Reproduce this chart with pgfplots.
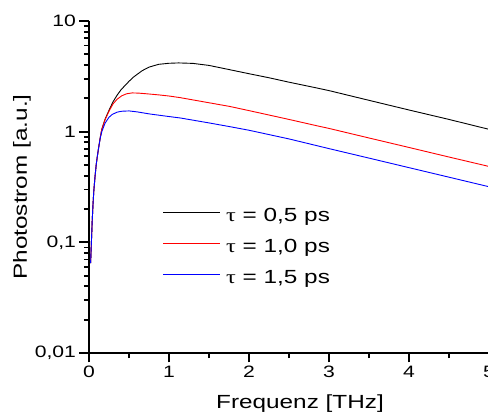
\documentclass[border=0pt]{standalone}
\usepackage{fontspec}
\setmainfont{Liberation Sans}[FakeStretch=1.28]
\newfontfamily\greek{Liberation Serif}[FakeStretch=1.28]
\usepackage{pgfplots}
\pgfplotsset{compat=1.18}
\begin{document}
\begin{tikzpicture}
\begin{axis}[
  name=ax,
  scale only axis,
  width=400pt, height=332pt,
  xmin=0, xmax=5, ymin=0.01, ymax=10,
  ymode=log,
  axis lines*=left,
  tick align=outside,
  major tick length=9.5pt, minor tick length=5pt,
  axis line style={line width=2pt},
  every tick/.style={line width=1.8pt, black},
  xtick={0,1,2,3,4,5}, xticklabels={0,1,2,3,4,5},
  minor xtick={0.5,1.5,2.5,3.5,4.5},
  ytick={0.01,0.1,1,10}, yticklabels={{0,01},{0,1},1,10},
  ticklabel style={font=\fontsize{16.5}{18}\selectfont},
  xlabel={Frequenz [THz]}, ylabel={Photostrom [a.u.]},
  label style={font=\fontsize{19}{22}\selectfont},
  xlabel style={at={(axis description cs:0.5275,-0.1657)}, anchor=base},
  ylabel style={at={(axis description cs:-0.155,0.5)}, anchor=base, rotate=0},
  legend style={at={(axis description cs:0.185,0.44)}, anchor=north west, draw=none, fill=none,
    inner sep=0pt, row sep=0pt, font=\fontsize{19}{22}\selectfont,
    nodes={inner sep=0pt, text height=14pt, text depth=17pt}},
  legend cell align=left,
  legend image code/.code={\path[#1, draw=none, fill] (0pt,9.6pt) rectangle (57pt,10.8pt);},
  /tikz/every odd column/.append style={column sep=6pt},
]
\addplot[black, line width=0.9pt] coordinates {
(0.02,0.065) (0.03,0.10) (0.04,0.155) (0.05,0.22) (0.06,0.29) (0.075,0.39) (0.09,0.5) (0.1,0.57) (0.117,0.69) (0.14,0.88) (0.16,1.05)
(0.2,1.29) (0.25,1.56) (0.3,1.86) (0.35,2.13) (0.4,2.39) (0.454,2.63) (0.5,2.85) (0.558,3.12) (0.6625,3.55) (0.75,3.83) (0.87,4.06) (1.0,4.15) (1.12,4.18) (1.3,4.14) (1.5,3.97) (1.76,3.63) (2.0,3.34) (2.25,3.07) (2.5,2.8) (2.85,2.48) (3.0,2.35) (3.5,1.92) (4.0,1.57) (4.5,1.29) (5.0,1.05)
};
\addlegendentry{{\greek τ} = 0,5 ps}
\addplot[red, line width=0.9pt] coordinates {
(0.02,0.065) (0.03,0.10) (0.04,0.155) (0.05,0.22) (0.06,0.29) (0.075,0.39) (0.09,0.5) (0.1,0.57) (0.117,0.69) (0.14,0.88) (0.16,1.05)
(0.2,1.28) (0.25,1.53) (0.3,1.78) (0.35,1.96) (0.41,2.11) (0.47,2.2) (0.54,2.24) (0.62,2.23) (0.75,2.19) (0.87,2.15) (1.0,2.1) (1.14,2.03) (1.4,1.88) (1.76,1.69) (2.0,1.55) (2.5,1.29) (2.85,1.13) (3.0,1.07) (3.5,0.877) (4.0,0.72) (4.5,0.59) (5.0,0.485)
};
\addlegendentry{{\greek τ} = 1,0 ps}
\addplot[blue, line width=0.9pt] coordinates {
(0.02,0.065) (0.03,0.10) (0.04,0.155) (0.05,0.22) (0.06,0.29) (0.075,0.39) (0.09,0.5) (0.1,0.57) (0.117,0.69) (0.14,0.87) (0.16,1.0)
(0.2,1.19) (0.25,1.35) (0.29,1.43) (0.35,1.5) (0.41,1.53) (0.5,1.54) (0.6,1.51) (0.76,1.445) (1.0,1.37) (1.14,1.33) (1.5,1.2) (1.76,1.11) (2.0,1.03) (2.5,0.86) (2.85,0.747) (3.0,0.703) (3.5,0.577) (4.0,0.473) (4.5,0.388) (5.0,0.318)
};
\addlegendentry{{\greek τ} = 1,5 ps}
\end{axis}
\pgfresetboundingbox
\path[use as bounding box] (-89pt,-65pt) rectangle (399pt,353pt);
\end{tikzpicture}
\end{document}
